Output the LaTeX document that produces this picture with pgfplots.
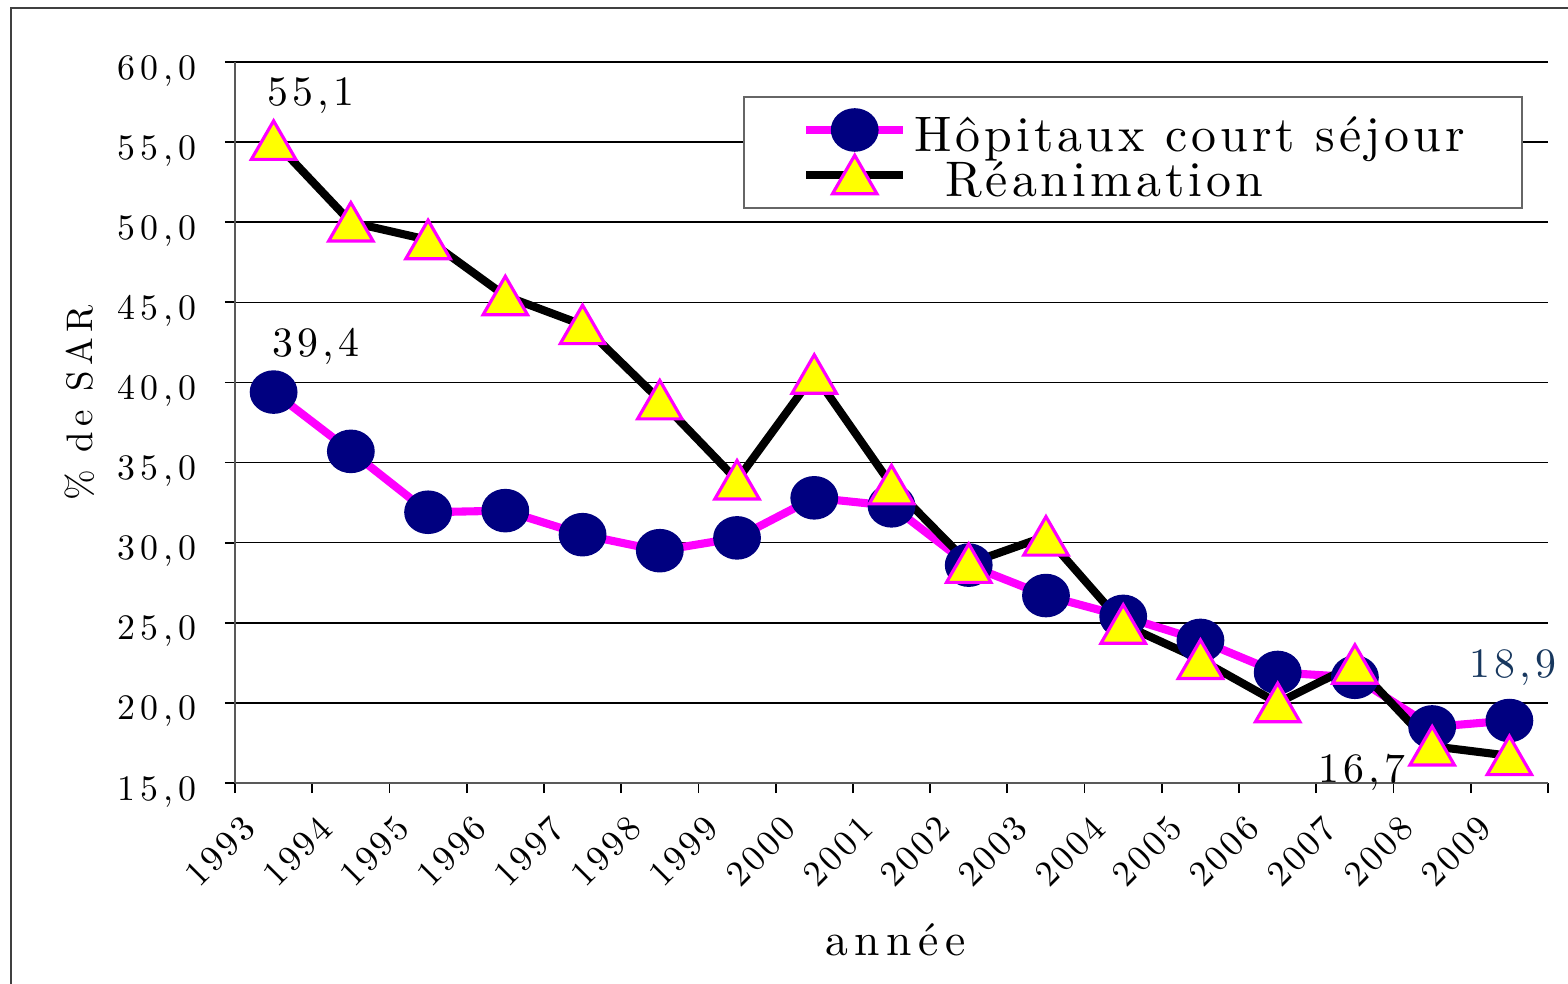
\documentclass[border=0pt]{standalone}
\usepackage{fontspec}
\setmainfont{lmroman10-regular.otf}
\usepackage{pgfplots}
\pgfplotsset{compat=1.18}

\definecolor{rose}{RGB}{255,0,255}
\definecolor{marine}{RGB}{0,0,128}
\definecolor{jaune}{RGB}{255,255,0}
\definecolor{bleuet}{RGB}{23,55,94}
% taille, espacement des lettres
\newcommand{\esp}[2]{\fontsize{#1}{#1}\selectfont\addfontfeatures{LetterSpace=#2}}

\begin{document}
\begin{tikzpicture}
\path[use as bounding box] (-2.35cm,-2.00cm) rectangle (13.33cm,7.83cm);
\draw[line width=0.6pt, black!75] (-2.24cm,-2.1cm) -- (-2.24cm,7.75cm) -- (13.5cm,7.75cm);
\begin{axis}[
  at={(0,0)}, anchor=south west,
  scale only axis, width=13.13cm, height=7.21cm,
  xmin=-0.5, xmax=16.5, ymin=15, ymax=60,
  clip=false,
  axis x line*=bottom, axis y line*=left,
  axis line style={-, black!65, line width=0.6pt},
  tick align=outside, major tick length=0.1cm,
  tick style={black, line width=0.5pt},
  ytick={15,20,...,60},
  yticklabels={{15,0},{20,0},{25,0},{30,0},{35,0},{40,0},{45,0},{50,0},{55,0},{60,0}},
  yticklabel style={font=\esp{10.2}{14}, inner sep=0pt, anchor=base east, xshift=-0.28cm, yshift=-0.17cm},
  ymajorgrids, major grid style={black, line width=0.45pt},
  xtick={-0.5,0.5,...,16.5},
  xticklabels={1993,1994,1995,1996,1997,1998,1999,2000,2001,2002,2003,2004,2005,2006,2007,2008,2009,{}},
  xticklabel style={font=\esp{10.3}{8}, inner sep=0pt, xshift=0.05cm, yshift=-0.2cm, rotate=45, anchor=north east},
  xlabel={année},
  xlabel style={font=\esp{13}{14}, at={(axis description cs:0.503,-0.218)}, anchor=center},
  ylabel={\% de SAR},
  ylabel style={font=\esp{10.5}{15}, at={(axis description cs:-0.118,0.527)}, anchor=center},
  legend style={at={(0.387,0.953)}, anchor=north west, draw=black!60, line width=0.6pt,
    fill=white, inner xsep=0.5cm, inner ysep=3pt, row sep=0pt,
    font=\esp{14.2}{8},
    nodes={inner xsep=2pt, inner ysep=0pt, text height=12.4pt, text depth=0.4pt}},
  legend cell align=left,
  legend image code/.code={
    \path (0cm,0cm);
    \draw[#1, mark repeat=2, mark phase=2] plot coordinates {(0.08cm,0cm) (0.565cm,0cm) (1.05cm,0cm)};
  },
]

% Hôpitaux court séjour
\addplot[rose, line width=2.3pt, mark=*, mark size=6pt,
  mark options={draw=marine, fill=marine, xscale=1.1, line width=0.4pt}] coordinates {
  (0,39.4) (1,35.7) (2,31.9) (3,32.0) (4,30.5) (5,29.5) (6,30.3) (7,32.8) (8,32.3)
  (9,28.6) (10,26.7) (11,25.4) (12,23.9) (13,21.9) (14,21.6) (15,18.5) (16,18.9)
};
\addlegendentry{Hôpitaux court séjour}

% Réanimation
\addplot[black, line width=2.3pt, mark=triangle*, mark size=7.3pt,
  mark options={draw=rose, fill=jaune, line width=0.9pt, yshift=-0.06cm}] coordinates {
  (0,55.1) (1,50.0) (2,48.9) (3,45.4) (4,43.6) (5,38.9) (6,33.9) (7,40.5) (8,33.6)
  (9,28.7) (10,30.4) (11,24.9) (12,22.7) (13,20.0) (14,22.4) (15,17.3) (16,16.7)
};
\addlegendentry{\hspace*{8.8pt}Réanimation}

\node[font=\esp{11.9}{10}, anchor=base] at (axis cs:0.48,57.3) {55,1};
\node[font=\esp{11.9}{10}, anchor=base] at (axis cs:0.55,41.6) {39,4};
\node[font=\esp{11.9}{10}, anchor=base, text=bleuet] at (axis cs:16.04,21.6) {18,9};
\node[font=\esp{11.9}{10}, anchor=base] at (axis cs:14.09,15.06) {16,7};
\end{axis}
\end{tikzpicture}
\end{document}
